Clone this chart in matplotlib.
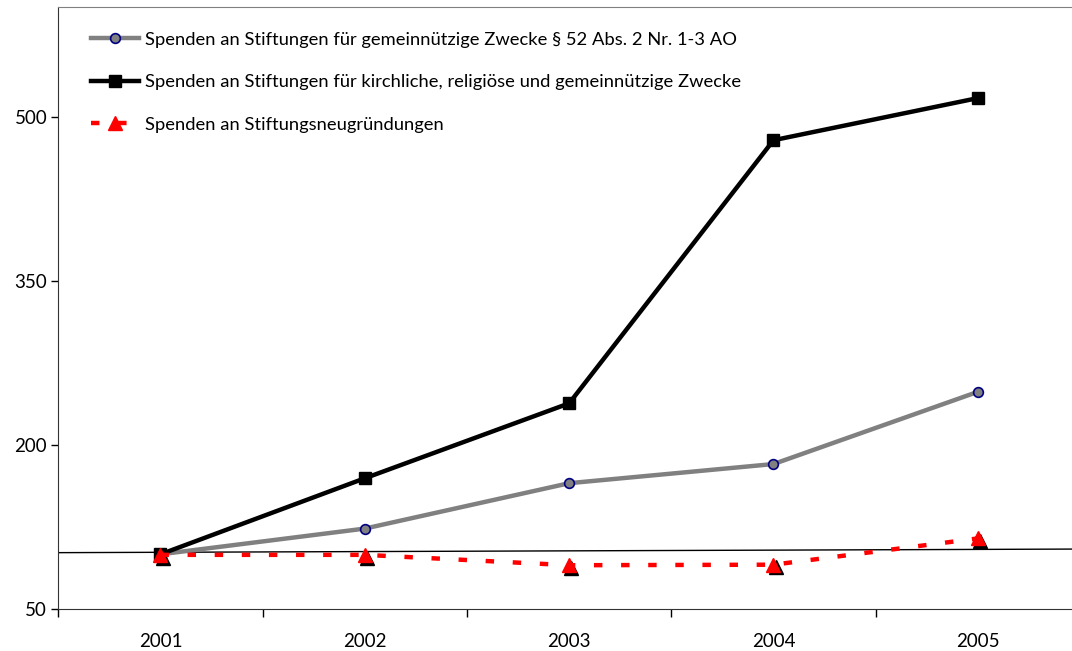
import matplotlib
matplotlib.use("Agg")
import matplotlib.pyplot as plt
import matplotlib.transforms as mtransforms

years = ["2001", "2002", "2003", "2004", "2005"]
gemeinnuetzig = [100, 123.5, 165, 182.5, 248.5]
kirchlich = [100, 169.5, 238, 478.5, 517]
neugruendungen = [99.5, 99.5, 90, 90.5, 114.5]
baseline_ends = [101.5, 104.8]
labels = [
    "Spenden an Stiftungen für gemeinnützige Zwecke § 52 Abs. 2 Nr. 1-3 AO",
    "Spenden an Stiftungen für kirchliche, religiöse und gemeinnützige Zwecke",
    "Spenden an Stiftungsneugründungen",
]
yticks = [50, 200, 350, 500]

plt.rcParams['font.family'] = ['Lato', 'DejaVu Sans']

fig = plt.figure(figsize=(10.72, 6.51), dpi=100)
ax = fig.add_axes([58.3 / 1072, 1 - 609 / 651, (1080 - 58.3) / 1072, (609 - 7.3) / 651])

x = list(range(len(years)))

ax.plot([-0.5, 4.5], baseline_ends, color='black', lw=1.0, zorder=2)

ax.plot(x, gemeinnuetzig, color='#808080', lw=3.2, marker='o', ms=7,
        mfc='#808080', mec='#000080', mew=1.2, label=labels[0], zorder=3)
ax.plot(x, kirchlich, color='black', lw=3.2, marker='s', ms=9,
        mfc='black', mec='black', label=labels[1], zorder=4)

shadow = mtransforms.offset_copy(ax.transData, fig=fig, x=1.5, y=-2, units='points')
ax.plot(x, neugruendungen, ls='none', marker='^', ms=10, mfc='black', mec='black',
        transform=shadow, zorder=4)
ax.plot(x, neugruendungen, color='#ff0000', lw=3.2, ls=(0, (1.9, 4.2)), marker='^', ms=10,
        mfc='#ff0000', mec='#ff0000', label=labels[2], zorder=5)

ax.set_xlim(-0.5, 4.5)
ax.set_ylim(50, 600)
ax.set_yticks(yticks)
ax.set_yticklabels([str(v) for v in yticks])
ax.set_xticks([i + 0.5 for i in range(-1, 5)])
ax.set_xticklabels([])
ax.set_xticks(x, minor=True)
ax.set_xticklabels(years, minor=True)
ax.tick_params(axis='x', which='minor', length=0, pad=17, labelsize=13.5)
ax.tick_params(axis='x', which='major', length=6, width=1, color='black', direction='out')
ax.tick_params(axis='y', length=5, width=1, labelsize=13.5, pad=3)

ax.spines['top'].set_color('#808080')
ax.spines['right'].set_visible(False)
ax.spines['left'].set_color('#333333')
ax.spines['bottom'].set_color('#333333')

leg = ax.legend(loc='upper left', bbox_to_anchor=(0.016, 0.987), frameon=False,
                fontsize=13.2, handlelength=2.6, handletextpad=0.35, labelspacing=1.45)

fig.savefig("out.png", dpi=100)
